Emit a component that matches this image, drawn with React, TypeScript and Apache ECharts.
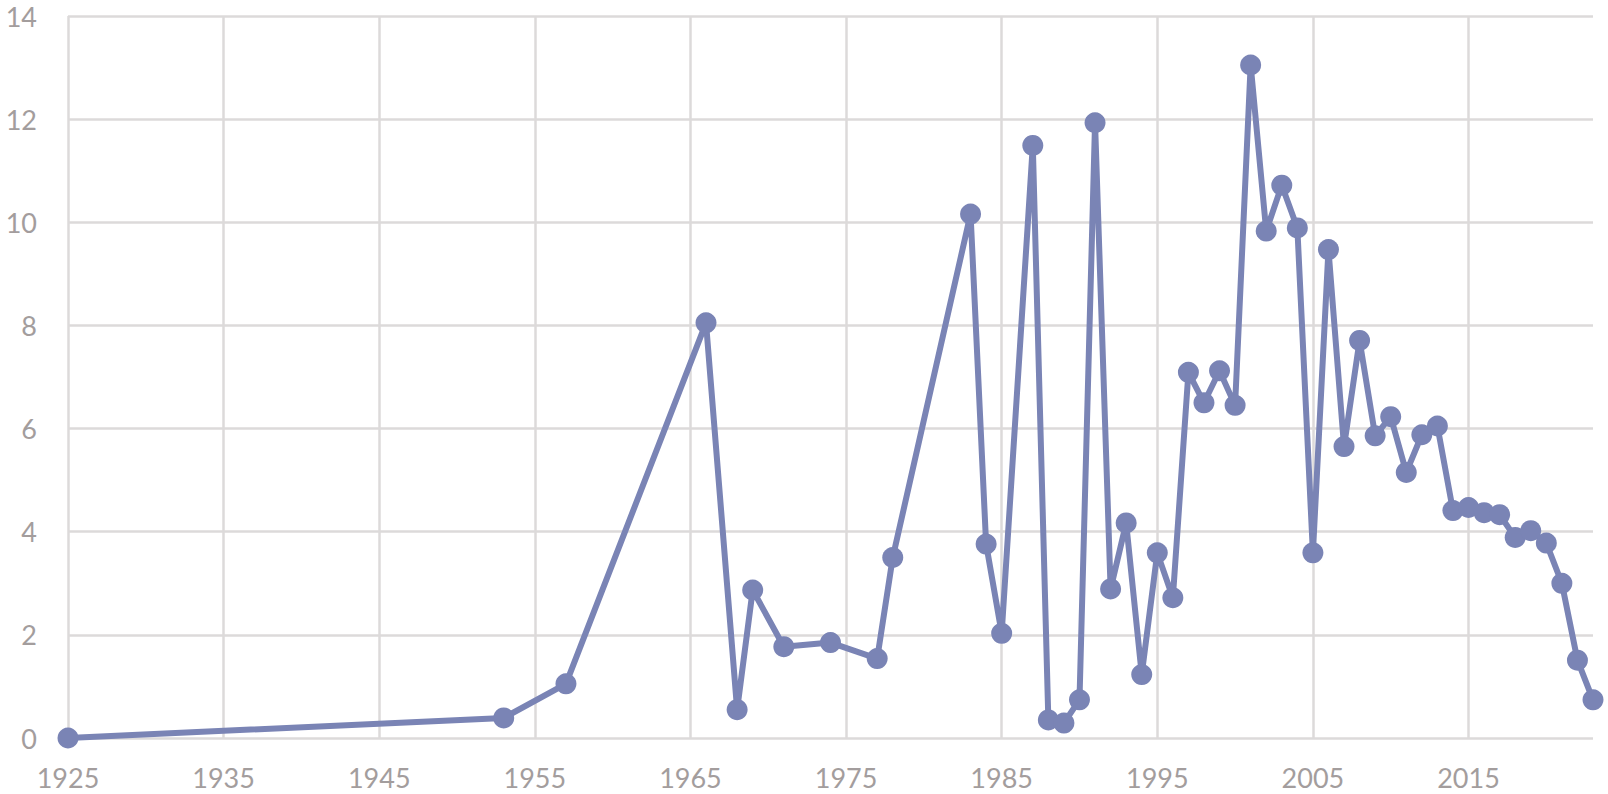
import React, { useEffect, useRef } from "react";
import * as echarts from "echarts";

const years: number[] = [
  1925, 1953, 1957, 1966, 1968, 1969, 1971, 1974, 1977, 1978,
  1983, 1984, 1985, 1987, 1988, 1989, 1990,
  1991, 1992, 1993, 1994, 1995, 1996, 1997, 1998, 1999, 2000,
  2001, 2002, 2003, 2004, 2005, 2006, 2007, 2008, 2009, 2010,
  2011, 2012, 2013, 2014, 2015, 2016, 2017, 2018, 2019, 2020,
  2021, 2022, 2023,
];

const values: number[] = [
  0, 0.39, 1.05, 8.05, 0.55, 2.87, 1.77, 1.85, 1.54, 3.5,
  10.16, 3.76, 2.03, 11.49, 0.35, 0.29, 0.74,
  11.93, 2.89, 4.17, 1.23, 3.59, 2.72, 7.09, 6.5, 7.12, 6.45,
  13.05, 9.83, 10.72, 9.89, 3.59, 9.47, 5.65, 7.71, 5.86, 6.23,
  5.15, 5.88, 6.05, 4.41, 4.47, 4.37, 4.33, 3.89, 4.02, 3.78,
  3.0, 1.51, 0.74,
];

const xMin = 1925;
const xMax = 2023;
const xStep = 10;
const yMin = 0;
const yMax = 14;
const yStep = 2;

const LINE = "#7a84b5";
const GRID = "#dcdada";
const LABEL = "#a39d9d";
const FONT = "Lato, 'Open Sans', sans-serif";

export default function App() {
  const ref = useRef<HTMLDivElement>(null);

  useEffect(() => {
    if (!ref.current) return;
    const chart = echarts.init(ref.current, null, { renderer: "svg" });
    const data = years.map((y, i) => [y, values[i]]);
    chart.setOption({
      animation: false,
      backgroundColor: "#ffffff",
      grid: { left: 68, right: 15, top: 16, bottom: 56, containLabel: false },
      xAxis: {
        type: "value",
        min: xMin,
        max: xMax,
        interval: xStep,
        axisLine: { show: false },
        axisTick: { show: false },
        axisLabel: {
          color: LABEL,
          fontFamily: FONT,
          fontSize: 27,
          margin: 26,
          showMaxLabel: false,
          formatter: (v: number) => String(v),
        },
        splitLine: {
          show: true,
          showMaxLine: false,
          lineStyle: { color: GRID, width: 2.5 },
        },
      },
      yAxis: {
        type: "value",
        min: yMin,
        max: yMax,
        interval: yStep,
        axisLine: { show: false },
        axisTick: { show: false },
        axisLabel: {
          color: LABEL,
          fontFamily: FONT,
          fontSize: 27,
          lineHeight: 22,
          margin: 31,
          formatter: (v: number) => String(v),
        },
        splitLine: { show: true, lineStyle: { color: GRID, width: 2.5 } },
      },
      series: [
        {
          type: "line",
          data,
          symbol: "circle",
          symbolSize: 21,
          lineStyle: { color: LINE, width: 6 },
          itemStyle: { color: LINE },
        },
      ],
    });
    return () => chart.dispose();
  }, []);

  return (
    <div
      ref={ref}
      style={{ position: "fixed", left: 0, top: 0, width: 1608, height: 794, background: "#fff" }}
    />
  );
}
